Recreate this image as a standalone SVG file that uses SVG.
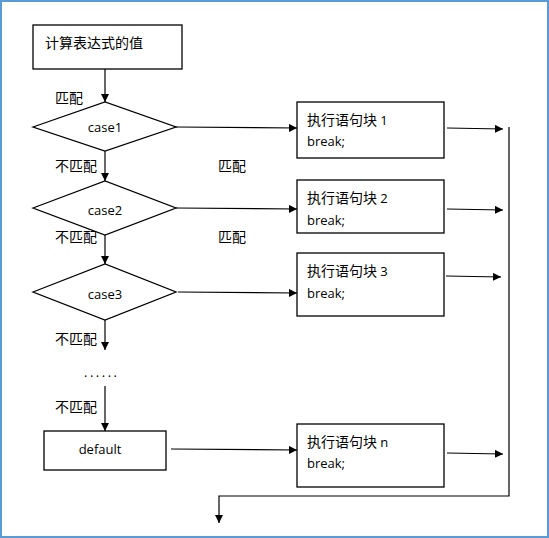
<svg xmlns="http://www.w3.org/2000/svg" width="549" height="538" viewBox="0 0 549 538">
<style>
.n{fill:#fff;stroke:#000;stroke-width:1.3}
.c{fill:none;stroke:#000;stroke-width:1.2}
.cn{font-family:"Noto Sans CJK SC","Noto Sans",sans-serif;font-size:14px;fill:#000}
.en{font-family:"Open Sans","Noto Sans",sans-serif;font-size:13px;fill:#000}
</style>
<defs>
<marker id="a" viewBox="0 0 10 10" refX="10" refY="5" markerWidth="8" markerHeight="8" markerUnits="userSpaceOnUse" orient="auto">
<path d="M0,0 L10,5 L0,10 Z" fill="#000"/>
</marker>
</defs>
<rect x="1" y="1" width="547" height="536" fill="#fff" stroke="#5b9bd5" stroke-width="2"/>
<g id="start"><rect class="n" x="33" y="25" width="149" height="44"/><text class="cn" x="45" y="48" font-size="15">计算表达式的值</text></g>
<g id="case1"><polygon class="n" points="33,127 105,102 176,127 105,151"/><text class="en" x="105" y="132" text-anchor="middle">case1</text></g>
<g id="case2"><polygon class="n" points="33,208 105,181 176,208 105,235"/><text class="en" x="105" y="215" text-anchor="middle">case2</text></g>
<g id="case3"><polygon class="n" points="33,292 105,264 176,292 105,320"/><text class="en" x="105" y="299" text-anchor="middle">case3</text></g>
<g id="default"><rect class="n" x="44" y="431" width="122" height="39"/><text class="en" x="100" y="454" text-anchor="middle">default</text></g>
<g id="block1"><rect class="n" x="297" y="102" width="147" height="56"/><text class="cn" x="307" y="125">执行语句块 <tspan class="en">1</tspan></text><text class="en" x="307" y="146">break;</text></g>
<g id="block2"><rect class="n" x="297" y="180" width="147" height="53"/><text class="cn" x="307" y="203">执行语句块 <tspan class="en">2</tspan></text><text class="en" x="307" y="225">break;</text></g>
<g id="block3"><rect class="n" x="297" y="253" width="147" height="63"/><text class="cn" x="307" y="276">执行语句块 <tspan class="en">3</tspan></text><text class="en" x="307" y="298">break;</text></g>
<g id="blockn"><rect class="n" x="297" y="424" width="147" height="63"/><text class="cn" x="307" y="447">执行语句块 <tspan class="en">n</tspan></text><text class="en" x="307" y="468">break;</text></g>
<g id="labels">
<text class="cn" x="55" y="103">匹配</text>
<text class="cn" x="55" y="171">不匹配</text>
<text class="cn" x="218" y="171">匹配</text>
<text class="cn" x="55" y="242">不匹配</text>
<text class="cn" x="218" y="242">匹配</text>
<text class="cn" x="55" y="344">不匹配</text>
<text class="cn" x="55" y="412">不匹配</text>
<text class="en" x="84" y="377" letter-spacing="2.5">......</text>
</g>
<g id="connectors">
<line class="c" x1="105" y1="69" x2="105" y2="102" marker-end="url(#a)"/>
<line class="c" x1="105" y1="151" x2="105" y2="181" marker-end="url(#a)"/>
<line class="c" x1="105" y1="235" x2="105" y2="264" marker-end="url(#a)"/>
<line class="c" x1="105" y1="320" x2="105" y2="350" marker-end="url(#a)"/>
<line class="c" x1="105" y1="386" x2="105" y2="431" marker-end="url(#a)"/>
<line class="c" x1="176" y1="127" x2="297" y2="128" marker-end="url(#a)"/>
<line class="c" x1="176" y1="208" x2="297" y2="209" marker-end="url(#a)"/>
<line class="c" x1="178" y1="292" x2="297" y2="293" marker-end="url(#a)"/>
<line class="c" x1="171" y1="449" x2="297" y2="450" marker-end="url(#a)"/>
<line class="c" x1="447" y1="128" x2="503" y2="129" marker-end="url(#a)"/>
<line class="c" x1="447" y1="209" x2="503" y2="210" marker-end="url(#a)"/>
<line class="c" x1="446" y1="276" x2="501" y2="277" marker-end="url(#a)"/>
<line class="c" x1="447" y1="453" x2="503" y2="454" marker-end="url(#a)"/>
<polyline class="c" points="509,127 509,496 219,496 219,523" marker-end="url(#a)"/>
</g>
</svg>
